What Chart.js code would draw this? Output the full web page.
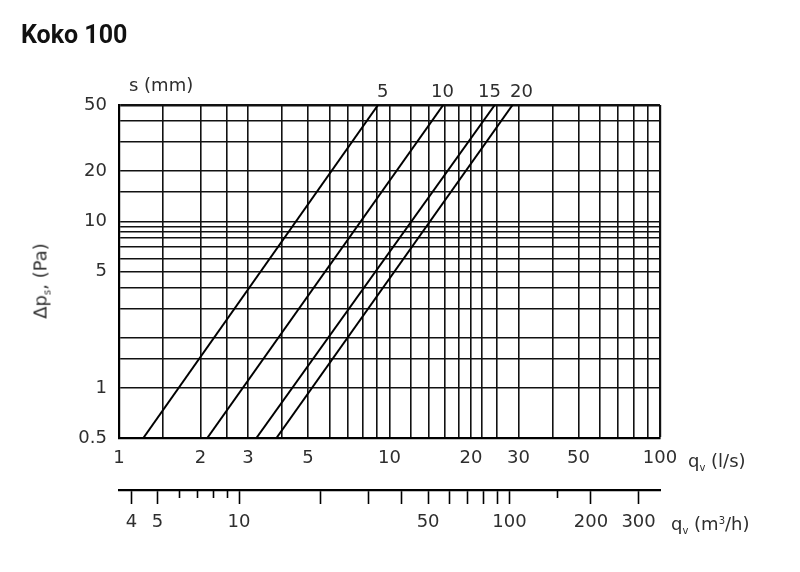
<!DOCTYPE html>
<html>
<head>
<meta charset="utf-8">
<title>Koko 100</title>
<script src="https://cdn.jsdelivr.net/npm/chart.js@4.4.1/dist/chart.umd.min.js"></script>
<style>
  html, body { margin: 0; padding: 0; background: #fff; }
  #wrap {
    position: relative;
    width: 800px;
    height: 572px;
    font-family: "DejaVu Sans", sans-serif;
    color: #2e2e2e;
  }
  #chart { position: absolute; left: 0; top: 0; }
  .txt { position: absolute; white-space: nowrap; font-size: 18px; line-height: 1; }
  .txt sub { font-size: 10px; vertical-align: -4px; }
  .txt sup { font-size: 10px; vertical-align: 6px; }
  #title { left: 21px; top: 22px; font-family: Roboto, "DejaVu Sans", sans-serif; font-weight: 700; font-size: 25px; color: #111; }
  #ytitle { left: 42px; top: 281px; transform: translate(-50%, -50%) rotate(-90deg); }
</style>
</head>
<body>
<div id="wrap">
  <canvas id="chart" width="800" height="572"></canvas>
  <div class="txt" id="title">Koko 100</div>
  <div class="txt" style="left:129px; top:76px;">s (mm)</div>
  <div class="txt" style="left:377px; top:82px;">5</div>
  <div class="txt" style="left:431px; top:82px;">10</div>
  <div class="txt" style="left:478px; top:82px;">15</div>
  <div class="txt" style="left:510px; top:82px;">20</div>
  <div class="txt" style="left:688px; top:452px;">q<sub>v</sub> (l/s)</div>
  <div class="txt" style="left:671px; top:515px;">q<sub>v</sub> (m<sup>3</sup>/h)</div>
  <div class="txt" id="ytitle">Δp<sub>s</sub>, (Pa)</div>
</div>
<script>
"use strict";

// gridlines / ticks
const flowTicks = [1, 1.45, 2, 2.5, 3, 4, 5, 6, 7, 8, 9, 10, 12, 14, 16, 18, 20, 22, 25, 30, 40, 50, 60, 70, 80, 90, 100];
const flowLabels = [1, 2, 3, 5, 10, 20, 30, 50, 100];
const pressureTicks = [0.5, 1, 1.5, 2, 3, 4, 5, 6, 7, 8, 8.6, 9.3, 10, 15, 20, 30, 40, 50];
const pressureLabels = [0.5, 1, 5, 10, 20, 50];
const m3hTicks = [4, 5, 10, 20, 30, 40, 50, 60, 70, 80, 90, 100, 200, 300];
const m3hMinorTicks = [6, 7, 8, 9, 150];
const m3hLabels = [4, 5, 10, 50, 100, 200, 300];

// damper settings s (mm): flow (l/s) at 0.5 Pa and at 50 Pa
const settings = ["5", "10", "15", "20"];
const flowAtLow = [1.23, 2.12, 3.22, 3.82];
const flowAtHigh = [9.07, 15.8, 24.5, 28.5];
const pressureLow = 0.5;
const pressureHigh = 50;

const LS_TO_M3H = 3.6;
const tickFont = { family: "'DejaVu Sans', sans-serif", size: 18 };
const textColor = "#2e2e2e";

function fixedTicks(values) {
  return (scale) => {
    scale.ticks = values.map((v) => ({ value: v }));
  };
}

function labelOnly(list) {
  return (value) => (list.includes(value) ? String(value) : "");
}

const datasets = settings.map((s, i) => ({
  label: "s = " + s + " mm",
  data: [
    { x: flowAtLow[i], y: pressureLow },
    { x: flowAtHigh[i], y: pressureHigh },
  ],
  showLine: true,
  borderColor: "#000",
  borderWidth: 2,
  pointRadius: 0,
  xAxisID: "x",
  yAxisID: "y",
}));

// short tick marks on the m3/h axis
const minorTickPlugin = {
  id: "minorTicks",
  afterDraw(chart) {
    const scale = chart.scales.x2;
    const ctx = chart.ctx;
    ctx.save();
    ctx.strokeStyle = "#000";
    ctx.lineWidth = 1.6;
    m3hMinorTicks.forEach((v) => {
      const px = Math.round(scale.getPixelForValue(v)) + 0.5;
      ctx.beginPath();
      ctx.moveTo(px, scale.top);
      ctx.lineTo(px, scale.top + 8);
      ctx.stroke();
    });
    ctx.restore();
  },
};

new Chart(document.getElementById("chart"), {
  type: "scatter",
  data: { datasets },
  options: {
    responsive: false,
    animation: false,
    devicePixelRatio: 1,
    layout: { padding: { top: 105, right: 140, left: 0, bottom: 0 } },
    plugins: { legend: { display: false }, tooltip: { enabled: false } },
    scales: {
      x: {
        type: "logarithmic",
        position: "bottom",
        min: 1,
        max: 100,
        afterBuildTicks: fixedTicks(flowTicks),
        afterFit: (s) => { s.height = 52; },
        grid: {
          color: "#111",
          lineWidth: (c) => (c.tick && c.tick.value === 100 ? 2.2 : 1.6),
          drawTicks: false,
        },
        border: { color: "#000", width: 2.2 },
        ticks: {
          autoSkip: false,
          maxRotation: 0,
          padding: 10,
          color: textColor,
          font: tickFont,
          callback: labelOnly(flowLabels),
        },
      },
      x2: {
        type: "logarithmic",
        position: "bottom",
        min: LS_TO_M3H,
        max: 100 * LS_TO_M3H,
        afterBuildTicks: fixedTicks(m3hTicks),
        afterFit: (s) => { s.height = 82; },
        grid: {
          drawOnChartArea: false,
          drawTicks: true,
          tickLength: 14,
          tickColor: "#000",
          tickWidth: 1.6,
        },
        border: { color: "#000", width: 2.2 },
        ticks: {
          autoSkip: false,
          maxRotation: 0,
          padding: 8,
          color: textColor,
          font: tickFont,
          callback: labelOnly(m3hLabels),
        },
      },
      y: {
        type: "logarithmic",
        min: pressureLow,
        max: pressureHigh,
        afterBuildTicks: fixedTicks(pressureTicks),
        afterFit: (s) => { s.width = 119; },
        grid: {
          color: "#111",
          lineWidth: (c) => (c.tick && c.tick.value === 50 ? 2.6 : 1.6),
          drawTicks: false,
        },
        border: { color: "#000", width: 2.2 },
        ticks: {
          autoSkip: false,
          padding: 12,
          color: textColor,
          font: tickFont,
          callback: labelOnly(pressureLabels),
        },
      },
    },
  },
  plugins: [minorTickPlugin],
});
</script>
</body>
</html>
